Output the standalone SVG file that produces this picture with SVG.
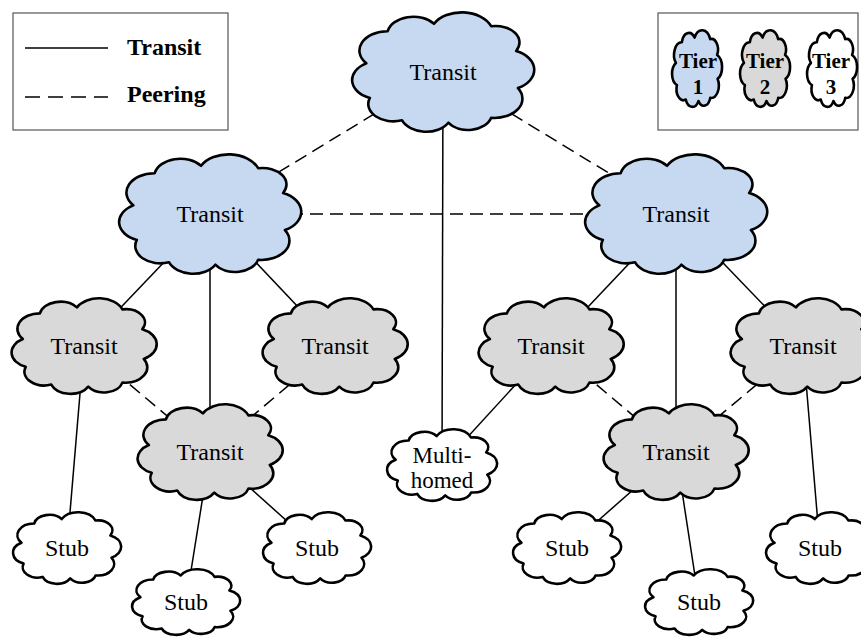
<svg xmlns="http://www.w3.org/2000/svg" xmlns:xlink="http://www.w3.org/1999/xlink" width="861" height="637" viewBox="0 0 861 637">
<style>
.t{font-family:"Liberation Serif","Times New Roman",serif;font-size:24px;text-anchor:middle;fill:#000}
.m{font-size:23px}
.lg{font-family:"Liberation Serif","Times New Roman",serif;font-size:24px;font-weight:bold;fill:#000}
.tl{font-family:"Liberation Serif","Times New Roman",serif;font-size:21px;font-weight:bold;text-anchor:middle;fill:#000}
.c1{fill:#C6D9F1}
.c2{fill:#D9D9D9}
.c3{fill:#FFFFFF}
.s{stroke:#000;stroke-width:1.5;fill:none}
.d{stroke:#000;stroke-width:1.5;fill:none;stroke-dasharray:13 7}
.box{fill:#fff;stroke:#555;stroke-width:1.2}
</style>
<defs>
<path id="cloud" stroke="#000" stroke-width="2.6" stroke-linejoin="round" vector-effect="non-scaling-stroke" d="M-43 -7 A15.7 15.7 0 0 1 -31 -33 A14.7 14.7 0 0 1 -5 -39 A17.7 17.7 0 0 1 27 -37 A13.4 13.4 0 0 1 41 -17 A16.5 16.5 0 0 1 42 13 A15.6 15.6 0 0 1 27 37 A13.4 13.4 0 0 1 3 41 A14.4 14.4 0 0 1 -23 39 A14 14 0 0 1 -41 21 A15.5 15.5 0 0 1 -43 -7 Z"/>
</defs>
<rect width="861" height="637" fill="#fff"/>

<g id="legend-lines">
<rect class="box" x="13" y="13" width="215" height="117"/>
<line class="s" x1="25" y1="48" x2="108" y2="48"/>
<text class="lg" x="127" y="55">Transit</text>
<line class="d" x1="25" y1="97" x2="108" y2="97" style="stroke-dasharray:15 8"/>
<text class="lg" x="127" y="102">Peering</text>
</g>

<g id="legend-tiers">
<rect class="box" x="658" y="13" width="200" height="117"/>
<use xlink:href="#cloud" class="c1" transform="translate(697,68.5) scale(0.49,0.794)"/>
<text class="tl" x="698" y="68">Tier</text><text class="tl" x="698" y="94">1</text>
<use xlink:href="#cloud" class="c2" transform="translate(765,68.5) scale(0.49,0.794)"/>
<text class="tl" x="765" y="68">Tier</text><text class="tl" x="765" y="94">2</text>
<use xlink:href="#cloud" class="c3" transform="translate(832,68.5) scale(0.49,0.794)"/>
<text class="tl" x="831" y="68">Tier</text><text class="tl" x="831" y="94">3</text>
</g>

<g id="connectors">
<line class="s" x1="443" y1="72" x2="442" y2="465"/>
<line class="s" x1="210" y1="214" x2="84" y2="346"/>
<line class="s" x1="210" y1="214" x2="210" y2="452"/>
<line class="s" x1="210" y1="214" x2="335" y2="346"/>
<line class="s" x1="676" y1="214" x2="551" y2="346"/>
<line class="s" x1="676" y1="214" x2="676" y2="452"/>
<line class="s" x1="676" y1="214" x2="803" y2="346"/>
<line class="s" x1="84" y1="346" x2="67" y2="548"/>
<line class="s" x1="210" y1="452" x2="186" y2="602"/>
<line class="s" x1="210" y1="452" x2="317" y2="548"/>
<line class="s" x1="551" y1="346" x2="442" y2="465"/>
<line class="s" x1="676" y1="452" x2="567" y2="548"/>
<line class="s" x1="676" y1="452" x2="699" y2="602"/>
<line class="s" x1="803" y1="346" x2="820" y2="548"/>
<line class="d" x1="443" y1="72" x2="210" y2="214"/>
<line class="d" x1="443" y1="72" x2="676" y2="214"/>
<line class="d" x1="210" y1="214" x2="676" y2="214"/>
<line class="d" x1="84" y1="346" x2="210" y2="452"/>
<line class="d" x1="335" y1="346" x2="210" y2="452"/>
<line class="d" x1="551" y1="346" x2="676" y2="452"/>
<line class="d" x1="803" y1="346" x2="676" y2="452"/>
</g>

<g id="t1-top"><use xlink:href="#cloud" class="c1" transform="translate(443,72) scale(1.784,1.237)"/><text class="t" x="443" y="80">Transit</text></g>
<g id="t1-left"><use xlink:href="#cloud" class="c1" transform="translate(210,214) scale(1.784,1.237)"/><text class="t" x="210" y="222">Transit</text></g>
<g id="t1-right"><use xlink:href="#cloud" class="c1" transform="translate(676,214) scale(1.784,1.237)"/><text class="t" x="676" y="222">Transit</text></g>

<g id="t2-l1"><use xlink:href="#cloud" class="c2" transform="translate(84,346) scale(1.422,0.99)"/><text class="t" x="84" y="354">Transit</text></g>
<g id="t2-l2"><use xlink:href="#cloud" class="c2" transform="translate(335,346) scale(1.422,0.99)"/><text class="t" x="335" y="354">Transit</text></g>
<g id="t2-l3"><use xlink:href="#cloud" class="c2" transform="translate(210,452) scale(1.422,0.99)"/><text class="t" x="210" y="460">Transit</text></g>
<g id="t2-r1"><use xlink:href="#cloud" class="c2" transform="translate(551,346) scale(1.422,0.99)"/><text class="t" x="551" y="354">Transit</text></g>
<g id="t2-r2"><use xlink:href="#cloud" class="c2" transform="translate(676,452) scale(1.422,0.99)"/><text class="t" x="676" y="460">Transit</text></g>
<g id="t2-r3"><use xlink:href="#cloud" class="c2" transform="translate(803,346) scale(1.422,0.99)"/><text class="t" x="803" y="354">Transit</text></g>

<g id="multihomed"><use xlink:href="#cloud" class="c3" transform="translate(442,465) scale(1.078,0.742)"/><text class="t m" x="442" y="463">Multi-</text><text class="t m" x="442" y="488">homed</text></g>

<g id="stub-1"><use xlink:href="#cloud" class="c3" transform="translate(67,548) scale(1.059,0.742)"/><text class="t" x="67" y="556">Stub</text></g>
<g id="stub-2"><use xlink:href="#cloud" class="c3" transform="translate(186,602) scale(1.059,0.68)"/><text class="t" x="186" y="610">Stub</text></g>
<g id="stub-3"><use xlink:href="#cloud" class="c3" transform="translate(317,548) scale(1.059,0.742)"/><text class="t" x="317" y="556">Stub</text></g>
<g id="stub-4"><use xlink:href="#cloud" class="c3" transform="translate(567,548) scale(1.059,0.742)"/><text class="t" x="567" y="556">Stub</text></g>
<g id="stub-5"><use xlink:href="#cloud" class="c3" transform="translate(699,602) scale(1.059,0.68)"/><text class="t" x="699" y="610">Stub</text></g>
<g id="stub-6"><use xlink:href="#cloud" class="c3" transform="translate(820,548) scale(1.059,0.742)"/><text class="t" x="820" y="556">Stub</text></g>
</svg>
